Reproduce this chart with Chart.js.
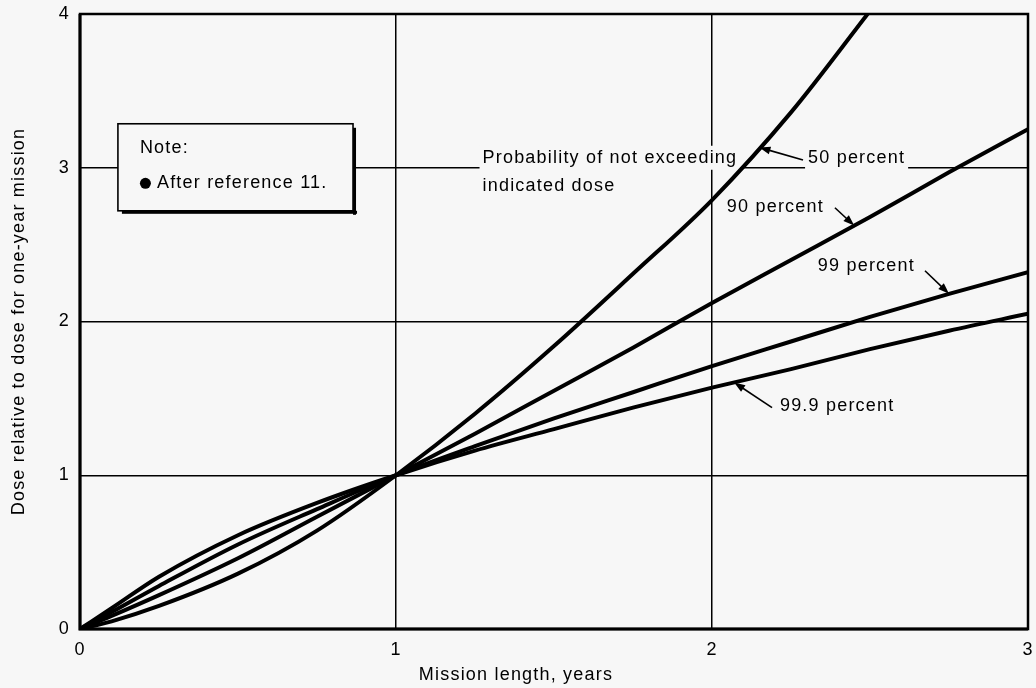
<!DOCTYPE html>
<html>
<head>
<meta charset="utf-8">
<script src="https://cdn.jsdelivr.net/npm/chart.js@4.4.1/dist/chart.umd.min.js"></script>
<style>
  html, body { margin: 0; padding: 0; background: #f7f7f7; }
  #wrap { width: 1036px; height: 688px; position: relative; }
</style>
</head>
<body>
<div id="wrap"><canvas id="c"></canvas></div>
<script>
// Mission length (years) at which each curve is sampled
const missionYears = [0, 0.1, 0.25, 0.5, 0.75, 1, 1.25, 1.5, 1.75, 2, 2.25, 2.5, 2.75, 3];
// Dose relative to the one-year dose, by probability of not exceeding it
const dose50  = [0, 0.05, 0.15, 0.36, 0.64, 1, 1.40, 1.84, 2.31, 2.79, 3.36, 4.02, null, null];
const dose90  = [0, 0.085, 0.22, 0.46, 0.73, 1, 1.27, 1.55, 1.83, 2.12, 2.40, 2.68, 2.97, 3.25];
const dose99  = [0, 0.11, 0.28, 0.55, 0.78, 1, 1.19, 1.37, 1.54, 1.71, 1.87, 2.03, 2.18, 2.32];
const dose999 = [0, 0.135, 0.34, 0.61, 0.82, 1, 1.16, 1.30, 1.44, 1.57, 1.69, 1.82, 1.94, 2.05];
const seriesNames = ['50 percent', '90 percent', '99 percent', '99.9 percent'];
const xTicks = [0, 1, 2, 3];
const yTicks = [0, 1, 2, 3, 4];

const FONT = '18px "Liberation Sans", Arial, sans-serif';
const SPACING = '1.2px';
const BG = '#f7f7f7';

const allSeries = [dose50, dose90, dose99, dose999];
const datasets = allSeries.map((vals, i) => ({
  label: seriesNames[i],
  data: missionYears.map((x, j) => ({ x: x, y: vals[j] })),
  borderColor: '#000',
  borderWidth: 4,
  pointRadius: 0,
  fill: false,
  cubicInterpolationMode: 'monotone',
  spanGaps: false
}));

// Value of a series at a given mission length (linear between samples)
function valueAt(vals, x) {
  for (let j = 0; j < missionYears.length - 1; j++) {
    const x0 = missionYears[j], x1 = missionYears[j + 1];
    if (x >= x0 && x <= x1 && vals[j] != null && vals[j + 1] != null) {
      return vals[j] + (vals[j + 1] - vals[j]) * (x - x0) / (x1 - x0);
    }
  }
  return null;
}

// Label placement in data units: text left edge / centre line, arrow tail, arrow tip on the curve
const curveLabels = [
  { text: seriesNames[0], x: 2.304, y: 3.065, tail: [2.288, 3.05], tipX: 2.15, series: 0 },
  { text: seriesNames[1], x: 2.047, y: 2.747, tail: [2.389, 2.74], tipX: 2.45, series: 1 },
  { text: seriesNames[2], x: 2.335, y: 2.364, tail: [2.674, 2.33], tipX: 2.75, series: 2 },
  { text: seriesNames[3], x: 2.215, y: 1.448, tail: [2.19, 1.44], tipX: 2.07, series: 3 }
];
// Caption lines are right-aligned on the first line's end
const captionLines = [
  { text: 'Probability of not exceeding', y: 3.065 },
  { text: 'indicated dose', y: 2.883 }
];
const captionRight = 2.08;
const noteBox = { x0: 0.12, x1: 0.864, y0: 3.286, y1: 2.72 };

function captionLeft(ctx, x) {
  ctx.font = FONT;
  ctx.letterSpacing = SPACING;
  return x.getPixelForValue(captionRight) - ctx.measureText(captionLines[0].text).width;
}

function textBox(ctx, t, px, py) {
  const w = ctx.measureText(t).width;
  return { x: px - 3, y: py - 12, w: w + 6, h: 24 };
}

const annotate = {
  id: 'annotate',
  beforeDraw(chart) {
    chart.ctx.letterSpacing = SPACING;
  },
  beforeDatasetsDraw(chart) {
    const { ctx, scales: { x, y } } = chart;
    ctx.save();
    const cl = captionLeft(ctx, x);
    ctx.fillStyle = BG;
    captionLines.forEach(l => {
      const b = textBox(ctx, l.text, cl, y.getPixelForValue(l.y));
      ctx.fillRect(b.x, b.y, b.w, b.h);
    });
    curveLabels.forEach(l => {
      const b = textBox(ctx, l.text, x.getPixelForValue(l.x), y.getPixelForValue(l.y));
      ctx.fillRect(b.x, b.y, b.w, b.h);
    });
    ctx.restore();
  },
  afterDatasetsDraw(chart) {
    const { ctx, chartArea: a, scales: { x, y } } = chart;
    ctx.save();
    // plot frame
    ctx.strokeStyle = '#000';
    ctx.lineWidth = 2.5;
    ctx.strokeRect(a.left, a.top, a.right - a.left, a.bottom - a.top);
    ctx.lineWidth = 3;
    ctx.beginPath();
    ctx.moveTo(a.left, a.top); ctx.lineTo(a.left, a.bottom); ctx.lineTo(a.right, a.bottom);
    ctx.stroke();

    const cl = captionLeft(ctx, x);
    ctx.fillStyle = '#000';
    ctx.textBaseline = 'middle';
    ctx.textAlign = 'left';

    captionLines.forEach(l => ctx.fillText(l.text, cl, y.getPixelForValue(l.y)));

    curveLabels.forEach(l => {
      ctx.fillText(l.text, x.getPixelForValue(l.x), y.getPixelForValue(l.y));
      const tx = x.getPixelForValue(l.tail[0]), ty = y.getPixelForValue(l.tail[1]);
      const hx = x.getPixelForValue(l.tipX), hy = y.getPixelForValue(valueAt(allSeries[l.series], l.tipX));
      const ang = Math.atan2(hy - ty, hx - tx);
      ctx.lineWidth = 1.6;
      ctx.beginPath();
      ctx.moveTo(tx, ty);
      ctx.lineTo(hx - 6 * Math.cos(ang), hy - 6 * Math.sin(ang));
      ctx.stroke();
      const L = 11, W = 4;
      ctx.beginPath();
      ctx.moveTo(hx, hy);
      ctx.lineTo(hx - L * Math.cos(ang) + W * Math.sin(ang), hy - L * Math.sin(ang) - W * Math.cos(ang));
      ctx.lineTo(hx - L * Math.cos(ang) - W * Math.sin(ang), hy - L * Math.sin(ang) + W * Math.cos(ang));
      ctx.closePath();
      ctx.fill();
    });

    // note box with drop shadow
    const bx0 = x.getPixelForValue(noteBox.x0), bx1 = x.getPixelForValue(noteBox.x1);
    const by0 = y.getPixelForValue(noteBox.y0), by1 = y.getPixelForValue(noteBox.y1);
    ctx.fillStyle = '#000';
    ctx.fillRect(bx0 + 4, by1, bx1 - bx0, 3);
    ctx.fillRect(bx1, by0 + 4, 3, by1 - by0);
    ctx.fillStyle = BG;
    ctx.fillRect(bx0, by0, bx1 - bx0, by1 - by0);
    ctx.lineWidth = 1.6;
    ctx.strokeRect(bx0, by0, bx1 - bx0, by1 - by0);
    ctx.fillStyle = '#000';
    ctx.fillText('Note:', bx0 + 22, by0 + 24);
    ctx.beginPath();
    ctx.arc(bx0 + 27.5, by0 + 59.5, 5.5, 0, Math.PI * 2);
    ctx.fill();
    ctx.fillText('After reference 11.', bx0 + 39, by0 + 59);

    // axis titles
    ctx.textAlign = 'center';
    ctx.fillText('Mission length, years', 516, 675);
    ctx.translate(19, (a.top + a.bottom) / 2);
    ctx.rotate(-Math.PI / 2);
    ctx.fillText('Dose relative to dose for one-year mission', 0, 0);
    ctx.restore();
  }
};

function noOverflow(s) {
  s.paddingTop = 0; s.paddingBottom = 0; s.paddingLeft = 0; s.paddingRight = 0;
}

new Chart(document.getElementById('c'), {
  type: 'line',
  data: { datasets },
  options: {
    responsive: true,
    maintainAspectRatio: false,
    animation: false,
    layout: { padding: { top: 14, right: 8, left: 0, bottom: 0 } },
    plugins: { legend: { display: false }, tooltip: { enabled: false } },
    scales: {
      x: {
        type: 'linear', min: 0, max: 3,
        afterFit(s) { s.height = 59; noOverflow(s); },
        afterBuildTicks(s) { s.ticks = xTicks.map(v => ({ value: v })); },
        grid: { color: '#000', lineWidth: 1.5, drawTicks: false, tickLength: 0 },
        border: { display: false },
        ticks: { color: '#000', font: { family: '"Liberation Sans", Arial, sans-serif', size: 18 }, padding: 10, maxRotation: 0 }
      },
      y: {
        type: 'linear', min: 0, max: 4,
        afterFit(s) { s.width = 80; noOverflow(s); },
        afterBuildTicks(s) { s.ticks = yTicks.map(v => ({ value: v })); },
        grid: { color: '#000', lineWidth: 1.5, drawTicks: false, tickLength: 0 },
        border: { display: false },
        ticks: { color: '#000', font: { family: '"Liberation Sans", Arial, sans-serif', size: 18 }, padding: 10 }
      }
    }
  },
  plugins: [annotate]
});
</script>
</body>
</html>
